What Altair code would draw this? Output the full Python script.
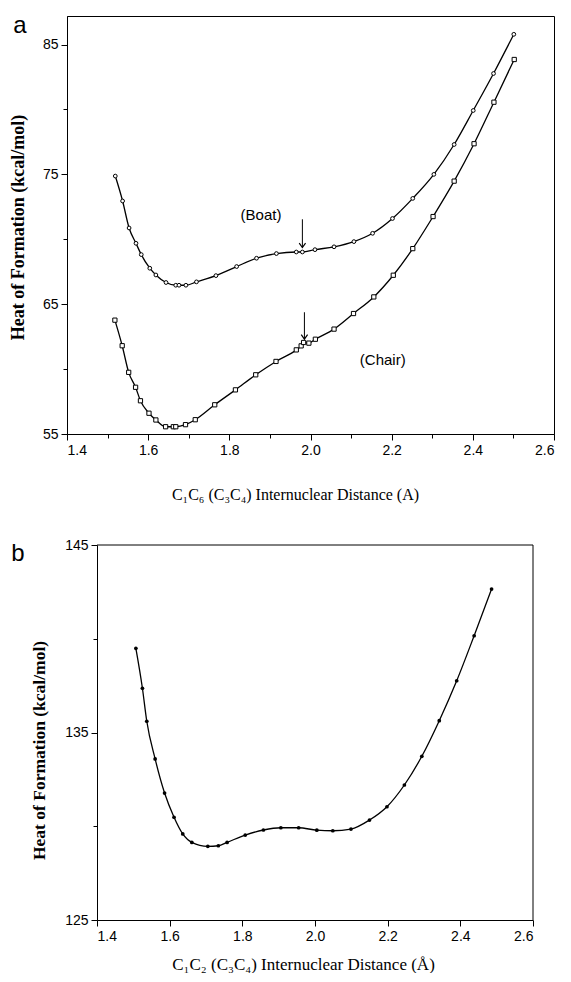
import altair as alt
import pandas as pd

# ---------------- data ----------------
boat_x = [1.519, 1.537, 1.553, 1.570, 1.583, 1.604, 1.619, 1.644, 1.668, 1.676,
          1.693, 1.719, 1.767, 1.818, 1.867, 1.916, 1.965, 1.980, 2.011, 2.058,
          2.107, 2.153, 2.202, 2.252, 2.304, 2.354, 2.401, 2.451, 2.501]
boat_y = [74.87, 72.95, 70.87, 69.69, 68.82, 67.77, 67.25, 66.67, 66.46, 66.46,
          66.46, 66.72, 67.20, 67.90, 68.54, 68.90, 69.02, 69.02, 69.20, 69.42,
          69.82, 70.46, 71.60, 73.15, 75.00, 77.30, 79.92, 82.77, 85.79]

chair_x = [1.518, 1.536, 1.552, 1.569, 1.581, 1.602, 1.619, 1.643, 1.662, 1.668,
           1.692, 1.716, 1.764, 1.815, 1.865, 1.915, 1.965, 1.977, 1.983, 1.996,
           2.012, 2.058, 2.106, 2.156, 2.204, 2.252, 2.302, 2.354, 2.403, 2.452,
           2.502]
chair_y = [63.77, 61.80, 59.75, 58.60, 57.56, 56.60, 56.08, 55.56, 55.56, 55.56,
           55.72, 56.10, 57.25, 58.40, 59.56, 60.59, 61.48, 61.79, 62.05, 62.00,
           62.30, 63.08, 64.28, 65.56, 67.23, 69.28, 71.75, 74.48, 77.36, 80.56,
           83.85]

b_x = [1.507, 1.525, 1.537, 1.560, 1.586, 1.612, 1.636, 1.661, 1.705, 1.734,
       1.758, 1.808, 1.858, 1.906, 1.955, 2.005, 2.049, 2.099, 2.150, 2.198,
       2.246, 2.294, 2.342, 2.390, 2.438, 2.486]
b_y = [139.49, 137.36, 135.60, 133.59, 131.77, 130.48, 129.59, 129.14, 128.93, 128.96,
       129.14, 129.53, 129.80, 129.92, 129.92, 129.79, 129.76, 129.85, 130.33, 131.04,
       132.20, 133.73, 135.63, 137.76, 140.16, 142.65]

arrow_x = [1.980, 1.985]
arrow_top = [71.54, 64.38]
arrow_tip = [69.36, 62.31]

label_text = ["(Boat)", "(Chair)"]
label_x = [1.878, 2.178]
label_y = [71.85, 60.69]

x_tick_values = [1.4, 1.5, 1.6, 1.7, 1.8, 1.9, 2.0, 2.1, 2.2, 2.3, 2.4, 2.5, 2.6]
ya_tick_values = [55, 60, 65, 70, 75, 80, 85]
yb_tick_values = [125, 130, 135, 140, 145]

# extent of panel b's frame (its axis ranges)
frame_b_x = [1.4, 2.6]
frame_b_y = [125, 145]

y_title = "Heat of Formation (kcal/mol)"
xa_title = "C\u2081C\u2086 (C\u2083C\u2084) Internuclear Distance (A)"
xb_title = "C\u2081C\u2082 (C\u2083C\u2084) Internuclear Distance (\u00c5)"

# ---------------- styling ----------------
SANS = "Liberation Sans"
SERIF = "Liberation Serif"
BLACK = "#000000"

# layout (pixels)
A_W, A_H = 487, 418
B_OFF, B_W, B_H = 30, 466, 375

boat = pd.DataFrame({"x": boat_x, "y": boat_y})
chair = pd.DataFrame({"x": chair_x, "y": chair_y})
bdf = pd.DataFrame({"x": b_x, "y": b_y})
arrows = pd.DataFrame({"x": arrow_x, "top": arrow_top, "tip": arrow_tip})
labels = pd.DataFrame({"t": label_text, "x": label_x, "y": label_y})
one = pd.DataFrame({"k": [0]})
frame_top = pd.DataFrame({"x": [frame_b_x[0]], "x2": [frame_b_x[1]], "y": [frame_b_y[1]]})
frame_right = pd.DataFrame({"x": [frame_b_x[1]], "y": [frame_b_y[0]], "y2": [frame_b_y[1]]})

major_x = "round(datum.value*10) % 2 == 0"


def x_axis(title, title_x, title_y, size):
    return alt.Axis(
        values=x_tick_values,
        labelExpr=major_x + " ? format(datum.value, '.1f') : ''",
        tickSize={"condition": {"test": major_x, "value": 6}, "value": 4},
        tickColor=BLACK, domainColor=BLACK, grid=False,
        labelFont=SANS, labelFontSize=14, labelColor=BLACK, labelPadding=3,
        title=title, titleFont=SERIF, titleFontSize=size, titleFontWeight="normal",
        titleColor=BLACK, titleX=title_x, titleY=title_y, titleBaseline="middle",
        titleAlign="center",
    )


def y_axis(values, major_test, title_x, title_y, size, offset=0):
    return alt.Axis(
        values=values,
        labelExpr=major_test + " ? datum.value : ''",
        tickSize={"condition": {"test": major_test, "value": 6}, "value": 4},
        tickColor=BLACK, domainColor=BLACK, grid=False, offset=offset,
        labelFont=SANS, labelFontSize=14, labelColor=BLACK, labelPadding=3,
        title=y_title, titleFont=SERIF, titleFontSize=size, titleFontWeight="bold",
        titleColor=BLACK, titleX=title_x, titleY=title_y, titleBaseline="middle",
        titleAlign="center",
    )


# ---------------- panel a ----------------
xa = alt.Scale(domain=[1.4, 2.6], nice=False, zero=False)
ya = alt.Scale(domain=[55, 87.2], nice=False, zero=False)
XA = alt.X("x:Q", scale=xa, axis=x_axis(xa_title, 228, 60, 16))
YA = alt.Y("y:Q", scale=ya, axis=y_axis(ya_tick_values, "datum.value % 10 == 5", -49, 211, 18))

boat_line = alt.Chart(boat).mark_line(interpolate="monotone", color=BLACK, strokeWidth=1.3).encode(x=XA, y=YA)
boat_pts = alt.Chart(boat).mark_point(shape="circle", filled=True, fill="white", stroke=BLACK,
                                      strokeWidth=1, size=14, opacity=1).encode(x=XA, y=YA)
chair_line = alt.Chart(chair).mark_line(interpolate="monotone", color=BLACK, strokeWidth=1.3).encode(x=XA, y=YA)
chair_pts = alt.Chart(chair).mark_point(shape="square", filled=True, fill="white", stroke=BLACK,
                                        strokeWidth=1, size=18, opacity=1).encode(x=XA, y=YA)
arrow_rule = alt.Chart(arrows).mark_rule(color=BLACK, strokeWidth=1).encode(
    x=alt.X("x:Q", scale=xa), y=alt.Y("top:Q", scale=ya), y2="tip:Q")
arrow_head = alt.Chart(arrows).mark_point(shape="M-1,-1.4L0,0L1,-1.4", filled=False, stroke=BLACK,
                                          strokeWidth=1.2, size=40, opacity=1).encode(
    x=alt.X("x:Q", scale=xa), y=alt.Y("tip:Q", scale=ya))
label_marks = alt.Chart(labels).mark_text(font=SANS, fontSize=15, color=BLACK).encode(
    x=alt.X("x:Q", scale=xa), y=alt.Y("y:Q", scale=ya), text="t:N")
panel_a = alt.Chart(one).mark_text(font=SANS, fontSize=24, color=BLACK, text="a",
                                   align="center", baseline="middle").encode(
    x=alt.value(-47), y=alt.value(10))

top = alt.layer(boat_line, chair_line, boat_pts, chair_pts, arrow_rule, arrow_head,
                label_marks, panel_a).properties(
    width=A_W, height=A_H, view=alt.ViewBackground(stroke=BLACK, strokeWidth=1))

# ---------------- panel b ----------------
xb = alt.Scale(domain=[1.4, 2.6], range=[B_OFF, B_W], nice=False, zero=False)
yb = alt.Scale(domain=[125, 145], nice=False, zero=False)
XB = alt.X("x:Q", scale=xb, axis=x_axis(xb_title, 236, 44, 17))
YB = alt.Y("y:Q", scale=yb, axis=y_axis(yb_tick_values, "datum.value % 10 == 5", -58, 205, 17.5, -B_OFF))

b_line = alt.Chart(bdf).mark_line(interpolate="monotone", color=BLACK, strokeWidth=1.3).encode(x=XB, y=YB)
b_pts = alt.Chart(bdf).mark_point(shape="circle", filled=True, color=BLACK, size=14, opacity=1).encode(x=XB, y=YB)
b_frame_top = alt.Chart(frame_top).mark_rule(color=BLACK, strokeWidth=1).encode(
    x=alt.X("x:Q", scale=xb), x2="x2:Q", y=alt.Y("y:Q", scale=yb))
b_frame_right = alt.Chart(frame_right).mark_rule(color=BLACK, strokeWidth=1).encode(
    x=alt.X("x:Q", scale=xb), y=alt.Y("y:Q", scale=yb), y2="y2:Q")
panel_b = alt.Chart(one).mark_text(font=SANS, fontSize=24, color=BLACK, text="b",
                                   align="center", baseline="middle").encode(
    x=alt.value(-49), y=alt.value(9))

bottom = alt.layer(b_line, b_pts, b_frame_top, b_frame_right, panel_b).properties(
    width=B_W, height=B_H, view=alt.ViewBackground(stroke="transparent"))

chart = alt.concat(top, bottom, columns=1, spacing=34).properties(
    padding={"left": 0, "top": 5, "right": 0, "bottom": 0},
    background="white",
).configure_view(strokeWidth=1)

chart.save("out.html", embed_options={"renderer": "svg", "actions": False})
